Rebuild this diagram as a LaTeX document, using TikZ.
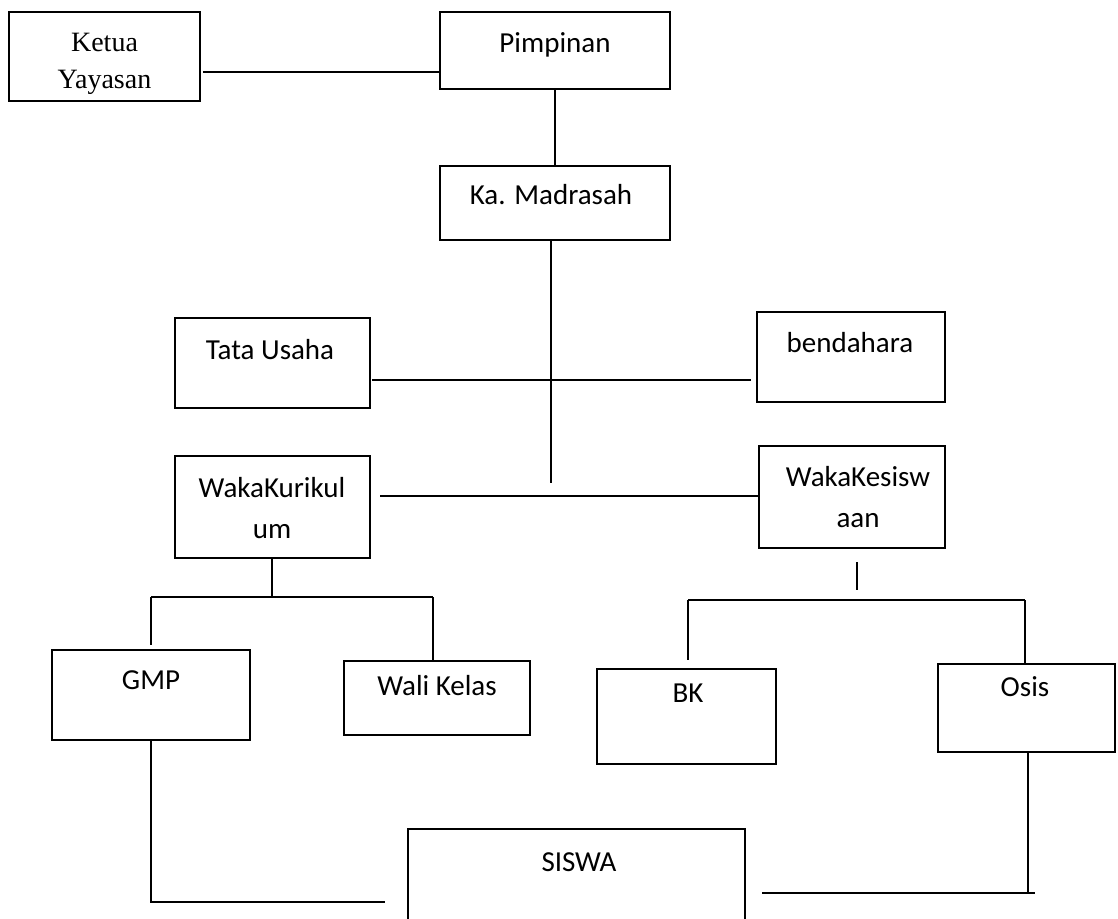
\documentclass[tikz,border=0pt]{standalone}
\usepackage{fontspec}
\setmainfont{Carlito}
\newfontfamily\serifft{Liberation Serif}
\begin{document}
\begin{tikzpicture}[x=1pt,y=-1pt,
  box/.style={draw, line width=1.7pt, rectangle, inner sep=0pt},
  txt/.style={inner sep=0pt, align=center, font=\fontsize{29}{41}\selectfont},
  stxt/.style={inner sep=0pt, align=center, font=\serifft\fontsize{28}{37}\selectfont},
  conn/.style={line width=1.5pt}]
\useasboundingbox (0,0) rectangle (1118,918);
\clip (0,0) rectangle (1118,918);
\fill[white] (0,0) rectangle (1118,918);
% boxes
\node[box, minimum width=191, minimum height=89] (ketua) at (104.5,56.5) {};
\node[box, minimum width=230, minimum height=77] (pimp) at (555,50.5) {};
\node[box, minimum width=230, minimum height=74] (kamad) at (555,203) {};
\node[box, minimum width=195, minimum height=90] (tu) at (272.5,363) {};
\node[box, minimum width=188, minimum height=90] (bend) at (851,357) {};
\node[box, minimum width=195, minimum height=102] (wkur) at (272.5,507) {};
\node[box, minimum width=186, minimum height=102] (wkes) at (852,497) {};
\node[box, minimum width=198, minimum height=90] (gmp) at (151,695) {};
\node[box, minimum width=186, minimum height=74] (wali) at (437,698) {};
\node[box, minimum width=179, minimum height=95] (bk) at (686.5,716.5) {};
\node[box, minimum width=177, minimum height=88] (osis) at (1026.5,708) {};
\node[box, minimum width=337, minimum height=140] (siswa) at (576.5,899) {};
% texts
\node[stxt] (ketuaT) at (104.5,64) {Ketua\\Yayasan};
\node[txt] (pimpT) at (555,45) {Pimpinan};
\node[txt] (kamadT) at (551,195) {Ka. Madrasah};
\node[txt] (tuT) at (270,350) {Tata Usaha};
\node[txt] (bendT) at (850,343) {bendahara};
\node[txt] (wkurT) at (272,508) {WakaKurikul\\um};
\node[txt] (wkesT) at (858,497) {WakaKesisw\\aan};
\node[txt] (gmpT) at (151,680) {GMP};
\node[txt] (waliT) at (437,686) {Wali Kelas};
\node[txt] (bkT) at (688,693) {BK};
\node[txt] (osisT) at (1025,687) {Osis};
\node[txt] (siswaT) at (579,862) {SISWA};
% free coordinates
\coordinate (kend) at (551,483);
\coordinate (tuL) at (372,380);
\coordinate (bendL) at (751,380);
\coordinate (wkurL) at (380,496);
\coordinate (wkesA) at (857,562);
\coordinate (wkesB) at (857,590);
\coordinate (kurJ) at (272,597);
\coordinate (kurL) at (151,597);
\coordinate (kurR) at (433,597);
\coordinate (gmpTop) at (151,645);
\coordinate (kesL) at (688,600);
\coordinate (kesR) at (1025,600);
\coordinate (bkTop) at (688,660);
\coordinate (gmpC) at (151,902);
\coordinate (gmpE) at (385,902);
\coordinate (osisC) at (1028,893);
\coordinate (osisX) at (1035,893);
\coordinate (siswaE) at (762,893);
% connectors
\draw[conn] (ketua.east |- 0,72) ++(2,0) -- (pimp.west |- 0,72);
\draw[conn] (pimp.south) -- (kamad.north);
\draw[conn] (kamad.south -| kend) -- (kend);
\draw[conn] (tuL) -- (bendL);
\draw[conn] (wkurL) -- (wkurL -| wkes.west);
\draw[conn] (wkesA) -- (wkesB);
\draw[conn] (wkur.south -| kurJ) -- (kurJ);
\draw[conn] (kurL) -- (kurR);
\draw[conn] (kurL) -- (gmpTop);
\draw[conn] (kurR) -- (kurR |- wali.north);
\draw[conn] (kesL) -- (kesR);
\draw[conn] (kesL) -- (bkTop);
\draw[conn] (kesR) -- (kesR |- osis.north);
\draw[conn] (gmp.south) -- (gmpC) -- (gmpE);
\draw[conn] (osis.south -| osisC) -- (osisC);
\draw[conn] (siswaE) -- (osisX);
\end{tikzpicture}
\end{document}
